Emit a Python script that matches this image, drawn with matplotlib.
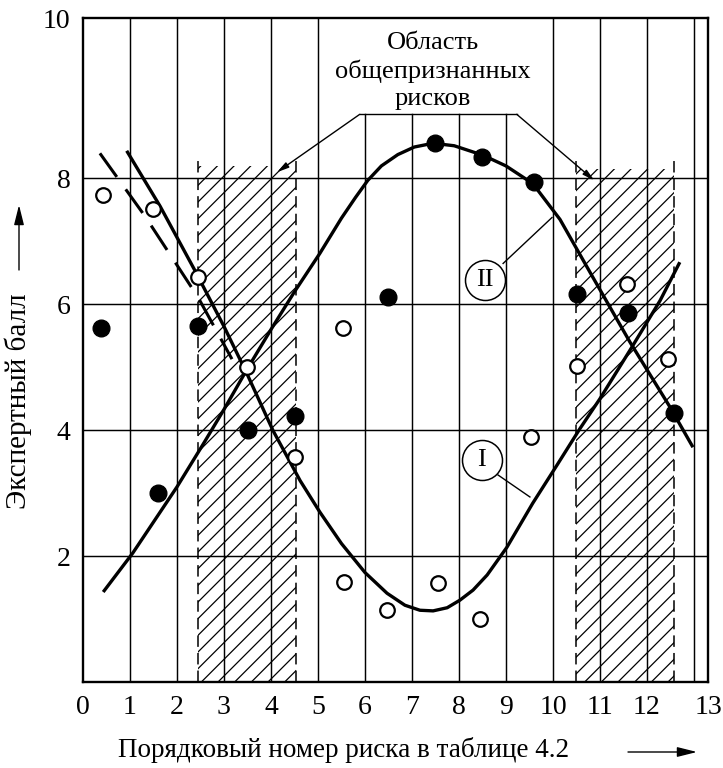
import matplotlib.pyplot as plt
from matplotlib.patches import FancyArrowPatch

plt.rcParams['font.family'] = ['Liberation Serif', 'DejaVu Serif']
plt.rcParams['hatch.linewidth'] = 0.9

# expert scores by risk number (table 4.2)
filled_x = [0.38, 1.6, 2.45, 3.51, 4.51, 6.49, 7.49, 8.49, 9.6, 10.51, 11.6, 12.57]
filled_y = [5.63, 3.0, 5.65, 4.0, 4.22, 6.11, 8.56, 8.34, 7.94, 6.16, 5.87, 4.28]
open_x = [0.42, 1.49, 2.45, 3.49, 4.51, 5.53, 5.55, 6.47, 7.55, 8.45, 9.53, 10.51, 11.57, 12.45]
open_y = [7.73, 7.52, 6.44, 5.0, 3.57, 5.62, 1.59, 1.14, 1.57, 1.0, 3.9, 5.02, 6.33, 5.13]

# curve I (open markers)
c1_x = [0.93, 1.64, 2.38, 3.0, 3.5, 4.04, 4.62, 5.04, 5.5, 6.0, 6.47, 6.85, 7.17, 7.45,
        7.75, 8.02, 8.3, 8.6, 9.02, 9.57, 10.09, 10.57, 11.0, 11.68, 12.28, 12.7]
c1_y = [8.44, 7.56, 6.54, 5.65, 4.88, 4.0, 3.2, 2.7, 2.2, 1.74, 1.41, 1.22, 1.14, 1.13,
        1.18, 1.30, 1.46, 1.7, 2.14, 2.84, 3.45, 4.02, 4.5, 5.32, 6.06, 6.67]

# curve II (filled markers)
c2_x = [0.43, 1.06, 2.0, 2.55, 3.0, 3.5, 4.0, 4.5, 5.04, 5.5, 5.8, 6.06, 6.35, 6.7, 7.05,
        7.45, 7.9, 8.51, 9.0, 9.57, 10.15, 10.85, 11.64, 12.49, 12.98]
c2_y = [1.43, 2.05, 3.1, 3.77, 4.33, 4.98, 5.6, 6.2, 6.81, 7.37, 7.7, 7.97, 8.2, 8.38, 8.5,
        8.56, 8.52, 8.37, 8.2, 7.92, 7.35, 6.43, 5.4, 4.37, 3.73]

# dashed bound next to curve I
bound_x = [0.36, 1.32, 2.45, 3.17]
bound_y = [8.40, 7.40, 6.11, 5.13]

# zones of commonly recognised risks
zone_left = [2.45, 10.5]
zone_right = [4.53, 12.57]
zone_top = [8.2, 8.15]

x_ticks = list(range(13))
x_labels = [str(i) for i in range(14)]
y_ticks = [2, 4, 6, 8]
y_labels = ['2', '4', '6', '8', '10']

fig = plt.figure(figsize=(7.23, 7.68), dpi=100)
ax = fig.add_axes([83 / 723, 1 - 682 / 768, 625 / 723, 664 / 768])
xmax, ymax = 13.3, 10.55
ax.set_xlim(0, xmax)
ax.set_ylim(0, ymax)

# grid; the middle lines stop under the caption
for gx in range(1, 14):
    top = 9.02 if 6 <= gx <= 9 else ymax
    ax.plot([gx, gx], [0, top], color='black', lw=1.05, zorder=1)
for gy in y_ticks:
    ax.axhline(gy, color='black', lw=1.05, zorder=1)

for l, r, t in zip(zone_left, zone_right, zone_top):
    ax.fill_between([l, r], 0, t, facecolor='none', edgecolor='black',
                    hatch='//', linewidth=0, zorder=1.5)
    for xx in (l, r):
        ax.plot([xx, xx], [0, t + 0.12], color='black', lw=1.1,
                linestyle=(0, (7.5, 4)), zorder=2)

ax.plot(c1_x, c1_y, color='black', lw=2.4, solid_capstyle='butt',
        solid_joinstyle='round', zorder=3)
ax.plot(c2_x, c2_y, color='black', lw=2.4, solid_capstyle='butt',
        solid_joinstyle='round', zorder=3)
ax.plot(bound_x, bound_y, color='black', lw=2.2, linestyle=(0, (9.5, 5)), zorder=3)

ax.plot(filled_x, filled_y, 'o', ms=12, color='black', zorder=4)
ax.plot(open_x, open_y, 'o', ms=10.5, mfc='white', mec='black', mew=1.6, zorder=4)

# caption with bracket arrows
ax.text(7.45, 9.71, 'Область\nобщепризнанных\nрисков', ha='center', va='center',
        fontsize=19, linespacing=1.3, zorder=6)
ax.plot([5.89, 9.23], [9.02, 9.02], color='black', lw=1.0, zorder=5)
arrow = dict(arrowstyle='-|>,head_length=0.7,head_width=0.18', color='black', lw=1.0,
             shrinkA=0, shrinkB=0)
ax.annotate('', xy=(4.13, 8.1), xytext=(5.89, 9.02), arrowprops=arrow, zorder=5)
ax.annotate('', xy=(10.88, 7.97), xytext=(9.23, 9.02), arrowprops=arrow, zorder=5)

# curve markers
for lbl, (cx, cy), (lx0, ly0, lx1, ly1) in [
        ('II', (8.55, 6.38), (8.94, 6.65, 9.98, 7.38)),
        ('I', (8.49, 3.52), (8.83, 3.29, 9.51, 2.94))]:
    ax.plot([lx0, lx1], [ly0, ly1], color='black', lw=1.0, zorder=5)
    ax.scatter([cx], [cy], s=830, facecolor='white', edgecolor='black', lw=1.1, zorder=6)
    ax.text(cx, cy, lbl, ha='center', va='center', fontsize=19, zorder=7)

ax.set_xticks(x_ticks + [xmax])
ax.set_xticklabels(x_labels)
ax.set_yticks(y_ticks + [ymax])
ax.set_yticklabels(y_labels)
ax.tick_params(length=0, labelsize=20, pad=9)
for sp in ax.spines.values():
    sp.set_linewidth(1.7)

fig.text(344 / 723, 1 - 750 / 768, 'Порядковый номер риска в таблице 4.2',
         ha='center', va='center', fontsize=19.5)
fig.text(18 / 723, 1 - 401 / 768, 'Экспертный балл', ha='center', va='center',
         rotation=90, fontsize=21)
head = dict(arrowstyle='-|>,head_length=0.6,head_width=0.15', color='black', lw=1.0,
            shrinkA=0, shrinkB=0, mutation_scale=20)
fig.add_artist(FancyArrowPatch((628 / 723, 1 - 752 / 768), (697 / 723, 1 - 752 / 768),
                               transform=fig.transFigure, **head))
fig.add_artist(FancyArrowPatch((19 / 723, 1 - 270 / 768), (19 / 723, 1 - 205 / 768),
                               transform=fig.transFigure, **head))

fig.savefig('out.png', dpi=100, facecolor='white')
